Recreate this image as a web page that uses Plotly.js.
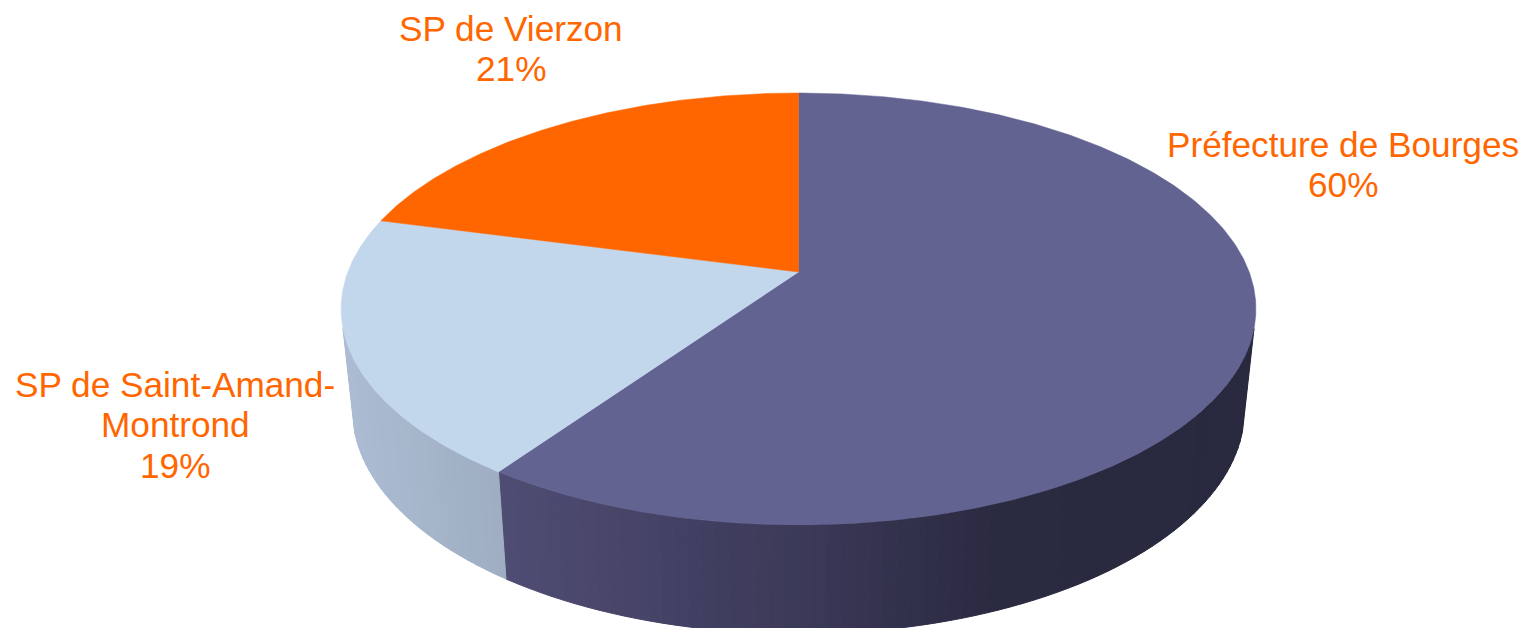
<!DOCTYPE html>
<html>
<head>
<meta charset="utf-8">
<script src="https://cdn.plot.ly/plotly-3.0.1.min.js"></script>
<style>html,body{margin:0;padding:0;background:#fff;overflow:hidden}#chart{width:1524px;height:628px}</style>
</head>
<body>
<div id="chart"></div>
<script>
// Data
const categories = ['Préfecture de Bourges', 'SP de Saint-Amand-Montrond', 'SP de Vierzon'];
const values = [59.7, 19.4, 20.9];
const labelLines = [['Préfecture de Bourges'], ['SP de Saint-Amand-', 'Montrond'], ['SP de Vierzon']];

// Styles
const topColors = ['#636392', '#C3D7EC', '#FF6600'];
const wallStops = [
  [[498, [80, 77, 116]], [800, [59, 57, 88]], [1000, [42, 42, 64]], [1260, [40, 40, 62]]],
  [[340, [172, 189, 212]], [510, [158, 173, 192]]],
  [[340, [200, 100, 20]], [800, [200, 100, 20]]]
];
const labelAnchors = [[1343, 144], [175, 384], [511, 28]];
const lineGap = 40.5;
const fontSize = 35.2;
const labelColor = '#FF6600';

// Perspective discs: top rim and bottom rim of the drum
const tilt = 0.171;
const cx = 798.5;
const topDisc = {y0: 272, a: 450.7, b: 209.6};
const botDisc = {y0: 371.6, a: 439.4, b: 217.4};
function project(d, deg) {
  const r = deg * Math.PI / 180, u = Math.sin(r), v = Math.cos(r), w = 1 + tilt * v;
  return [cx + d.a * u / w, d.y0 - d.b * v / w];
}
function wallColor(stops, x) {
  if (x <= stops[0][0]) return stops[0][1];
  for (let i = 1; i < stops.length; i++) {
    if (x <= stops[i][0]) {
      const f = (x - stops[i-1][0]) / (stops[i][0] - stops[i-1][0]);
      return stops[i-1][1].map((c, k) => c + f * (stops[i][1][k] - c));
    }
  }
  return stops[stops.length - 1][1];
}
const total = values.reduce((a, b) => a + b, 0);
const walls = [], tops = [];
let acc = 0;
values.forEach((val, i) => {
  const a0 = acc / total * 360, a1 = (acc + val) / total * 360;
  acc += val;
  // side wall, front half only
  const s = Math.max(a0, 105), e = Math.min(a1, 255);
  const step = 1.5;
  for (let t = s; t < e; t += step) {
    const t2 = Math.min(t + step, e);
    const p1 = project(topDisc, t), p2 = project(topDisc, t2), q2 = project(botDisc, t2), q1 = project(botDisc, t);
    const col = wallColor(wallStops[i], (p1[0] + p2[0] + q1[0] + q2[0]) / 4).map(Math.round);
    const rgb = 'rgb(' + col.join(',') + ')';
    walls.push({
      type: 'scatter', mode: 'lines', fill: 'toself', fillcolor: rgb,
      x: [p1[0], p2[0], q2[0], q1[0], p1[0]], y: [p1[1], p2[1], q2[1], q1[1], p1[1]],
      line: {color: rgb, width: 1}, hoverinfo: 'skip', showlegend: false
    });
  }
  // top face
  const xs = [cx], ys = [topDisc.y0];
  for (let t = a0; t < a1; t += 0.5) {
    const p = project(topDisc, t); xs.push(p[0]); ys.push(p[1]);
  }
  const pe = project(topDisc, a1); xs.push(pe[0], cx); ys.push(pe[1], topDisc.y0);
  tops.push({
    type: 'scatter', mode: 'lines', fill: 'toself', fillcolor: topColors[i],
    x: xs, y: ys, line: {color: topColors[i], width: 0.5},
    name: categories[i], text: categories[i], hoverinfo: 'text', showlegend: false
  });
});

const annotations = [];
values.forEach((val, i) => {
  const lines = labelLines[i].concat([Math.round(val / total * 100) + '%']);
  lines.forEach((ln, k) => annotations.push({
    x: labelAnchors[i][0], y: labelAnchors[i][1] + k * lineGap,
    xref: 'x', yref: 'y', text: ln, showarrow: false, xanchor: 'center', yanchor: 'middle',
    font: {family: 'Liberation Sans, Arial, sans-serif', size: fontSize, color: labelColor}
  }));
});

const layout = {
  width: 1524, height: 628, margin: {l: 0, r: 0, t: 0, b: 0, pad: 0},
  paper_bgcolor: '#fff', plot_bgcolor: '#fff', showlegend: false,
  xaxis: {range: [0, 1524], visible: false, fixedrange: true},
  yaxis: {range: [628, 0], visible: false, fixedrange: true},
  annotations
};
Plotly.newPlot('chart', walls.concat(tops), layout, {displayModeBar: false, staticPlot: true});
</script>
</body>
</html>
